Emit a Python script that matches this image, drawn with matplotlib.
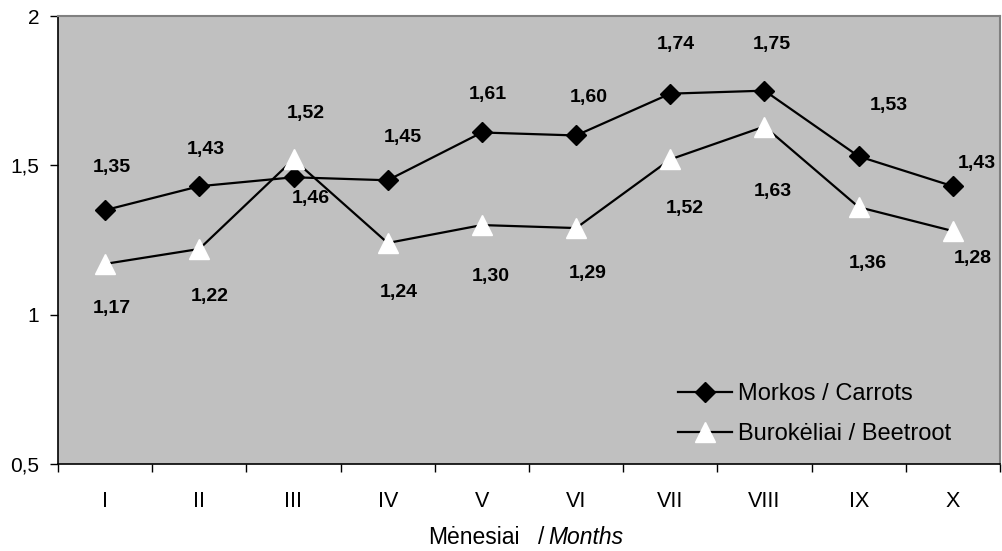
import numpy as np
import matplotlib
matplotlib.use('Agg')
import matplotlib.pyplot as plt
from matplotlib.ticker import FuncFormatter, FixedLocator

plt.rcParams['font.family'] = ['Liberation Sans', 'DejaVu Sans']

# ── Data ─────────────────────────────────────────────
months   = ['I', 'II', 'III', 'IV', 'V', 'VI', 'VII', 'VIII', 'IX', 'X']
carrots  = [1.35, 1.43, 1.46, 1.45, 1.61, 1.60, 1.74, 1.75, 1.53, 1.43]
beetroot = [1.17, 1.22, 1.52, 1.24, 1.30, 1.29, 1.52, 1.63, 1.36, 1.28]

# label offsets in pixels (dx, dy)
carrot_off = [(7, 43), (7, 37), (17, -21), (15, 43), (6, 38),
              (13, 38), (6, 49), (7, 46), (30, 51), (24, 23)]
beet_off   = [(7, -45), (10, -48), (12, 46), (11, -50), (9, -51),
              (12, -45), (14, -49), (8, -65), (9, -56), (20, -27)]

fig = plt.figure(figsize=(10.03, 5.51), dpi=100)
ax = fig.add_axes([58/1003, 1 - 464/551, 942/1003, 448/551])
ax.set_facecolor('#c0c0c0')

x = np.arange(len(months))
ax.plot(x, carrots, color='black', lw=1.6, marker='D', ms=10,
        mfc='black', mec='black', label='Morkos / Carrots', zorder=3)
ax.plot(x, beetroot, color='black', lw=1.6, marker='^', ms=14,
        mfc='white', mec='white', label='Burokėliai / Beetroot', zorder=3)

for xi, v, (dx, dy) in zip(x, carrots, carrot_off):
    ax.annotate(f'{v:.2f}'.replace('.', ','), (xi, v), xytext=(dx, dy),
                textcoords='offset pixels', ha='center', va='center',
                fontsize=14, fontweight='bold')
for xi, v, (dx, dy) in zip(x, beetroot, beet_off):
    ax.annotate(f'{v:.2f}'.replace('.', ','), (xi, v), xytext=(dx, dy),
                textcoords='offset pixels', ha='center', va='center',
                fontsize=14, fontweight='bold')

ax.set_xlim(-0.5, len(months) - 0.5)
ax.set_ylim(0.5, 2)
ax.yaxis.set_major_locator(FixedLocator([0.5, 1, 1.5, 2]))
ax.yaxis.set_major_formatter(FuncFormatter(lambda v, p: f'{v:g}'.replace('.', ',')))
ax.set_xticks(x)
ax.set_xticklabels(months)
ax.set_xticks(np.arange(-0.5, len(months)), minor=True)
ax.tick_params(axis='x', which='major', length=0, pad=19.5, labelsize=15.5)
ax.tick_params(axis='x', which='minor', length=5.5, width=1, color='black')
ax.tick_params(axis='y', length=5.5, width=1, labelsize=15, pad=8)

for s in ['top', 'right']:
    ax.spines[s].set_color('#808080')
    ax.spines[s].set_linewidth(1.5)
for s in ['left', 'bottom']:
    ax.spines[s].set_color('black')
    ax.spines[s].set_linewidth(1.2)

leg = ax.legend(loc='lower left', bbox_to_anchor=((678 - 58) / 942, 0.042),
                frameon=False, fontsize=17, handlelength=2.3,
                handletextpad=0.25, labelspacing=0.75, borderpad=0,
                borderaxespad=0)

# axis title: "Mėnesiai  / Months" with italic English part
ty = 1 - 538/551
fig.text(520/1003, ty, 'Mėnesiai', ha='right', va='center', fontsize=16.5)
fig.text(541/1003, ty, '/', ha='center', va='center', fontsize=16.5)
fig.text(548/1003, ty, 'Months', ha='left', va='center',
         fontsize=16.5, style='italic')

fig.savefig('out.png', dpi=100)
